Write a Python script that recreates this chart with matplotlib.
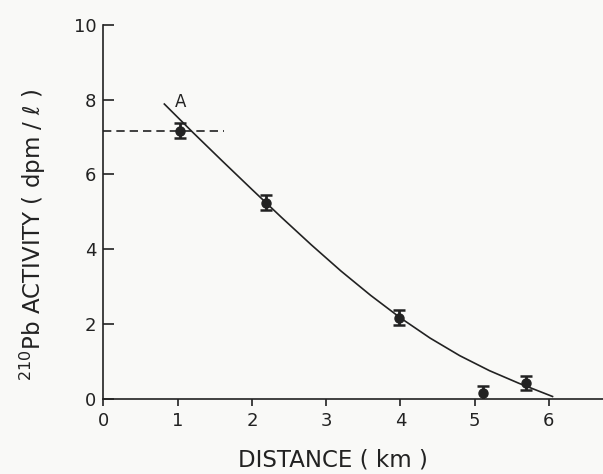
import matplotlib
matplotlib.use("Agg")
import matplotlib.pyplot as plt

# Data
dist_km = [1.03, 2.19, 3.98, 5.11, 5.69]
activity = [7.17, 5.24, 2.17, 0.16, 0.43]
activity_err = [0.2, 0.2, 0.2, 0.2, 0.2]

curve_x = [0.82, 1.2, 1.6, 2.0, 2.4, 2.8, 3.2, 3.6, 4.0, 4.4, 4.8, 5.2, 5.6, 6.05]
curve_y = [7.88, 7.13, 6.36, 5.6, 4.85, 4.12, 3.42, 2.77, 2.17, 1.63, 1.16, 0.76, 0.42, 0.07]

ref_x = [0.0, 1.62]
ref_y = [7.15, 7.15]

x_ticks = [0, 1, 2, 3, 4, 5, 6]
y_ticks = [0, 2, 4, 6, 8, 10]

plt.rcParams['font.family'] = ['DejaVu Sans']

ink = '#222222'
bg = '#f9f9f7'
fig = plt.figure(figsize=(6.03, 4.74), dpi=100, facecolor=bg)
ax = fig.add_axes([0.1716, 0.158, 0.8284, 0.79], facecolor=bg)

ax.plot(curve_x, curve_y, color=ink, lw=1.2)
ax.plot(ref_x, ref_y, color=ink, lw=1.2, ls=(0, (5, 3)))
ax.errorbar(dist_km, activity, yerr=activity_err, fmt='o', color=ink,
            markersize=6.5, elinewidth=2, capsize=4, capthick=1.8)
ax.text(1.04, 7.94, 'A', ha='center', va='center', fontsize=12, color=ink)

ax.set_xlim(0, 6.73)
ax.set_ylim(0, 10)
ax.set_xticks(x_ticks)
ax.set_yticks(y_ticks)
ax.set_xticklabels([str(v) for v in x_ticks], fontsize=13, color=ink)
ax.set_yticklabels([str(v) for v in y_ticks], fontsize=13, color=ink)

for s in ['top', 'right']:
    ax.spines[s].set_visible(False)
for s in ['left', 'bottom']:
    ax.spines[s].set_linewidth(1.2)
    ax.spines[s].set_color(ink)
ax.tick_params(axis='x', direction='out', length=5, width=1.2, color=ink, pad=4)
ax.tick_params(axis='y', direction='in', length=8, width=1.2, color=ink, pad=5)

ax.set_xlabel('DISTANCE ( km )', fontsize=16.5, color=ink, va='center')
ax.xaxis.set_label_coords(0.46, -0.163)
ax.set_ylabel('$^{210}$Pb ACTIVITY ( dpm / ℓ )', fontsize=16.5, color=ink, va='center')
ax.yaxis.set_label_coords(-0.142, 0.438)

fig.savefig('out.png', dpi=100, facecolor=bg)
